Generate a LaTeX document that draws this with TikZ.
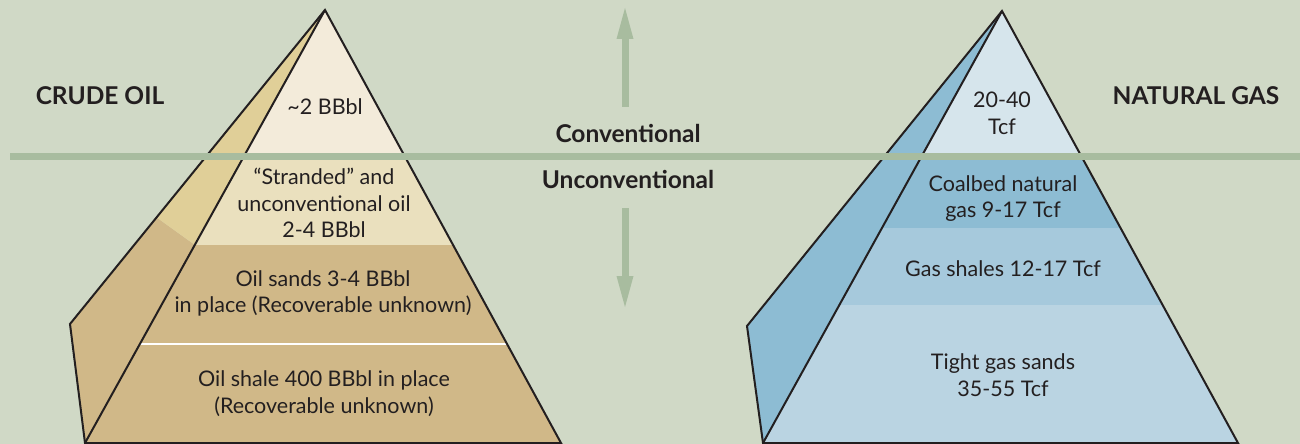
\documentclass[tikz,border=0pt]{standalone}
\usepackage{fontspec}
\setmainfont{Lato}
\definecolor{bg}{HTML}{D0D9C6}
\definecolor{grn}{HTML}{A8BC9F}
\definecolor{oilA}{HTML}{F3EBDA}
\definecolor{oilB}{HTML}{EAE0BE}
\definecolor{oilC}{HTML}{D0B888}
\definecolor{oilS}{HTML}{E0CF98}
\definecolor{gasA}{HTML}{D6E5EC}
\definecolor{gasB}{HTML}{8DBCD3}
\definecolor{gasC}{HTML}{A6C9DC}
\definecolor{gasD}{HTML}{BAD4E2}
\definecolor{ink}{HTML}{231F20}
\tikzset{
  outline/.style={draw=ink, line width=2pt, line join=miter},
  lbl/.style={font=\fontsize{21.5}{26.5}\selectfont, text=ink, align=center, inner sep=0pt},
  title/.style={font=\fontsize{24.5}{28}\selectfont\bfseries, text=ink, inner sep=0pt},
  arrowfill/.style={fill=grn, draw=none}
}
\begin{document}
\begin{tikzpicture}[x=1pt,y=-1pt]
\useasboundingbox (0,0) rectangle (1300,444);
\fill[bg] (0,0) rectangle (1300,444);

% ---------- CRUDE OIL pyramid ----------
\coordinate (oA) at (325,10);
\coordinate (oBL) at (85,443);
\coordinate (oBR) at (561,443);
\coordinate (oS) at (70,324);
\coordinate (oE1) at (156,217);
\coordinate (oE2) at (195,245);
% side face
\fill[oilC] (oE1) -- (oS) -- (oBL) -- (oE2) -- cycle;
\fill[oilS] (oA) -- (oE1) -- (oE2) -- cycle;
% front face bands
\begin{scope}
  \clip (oA) -- (oBL) -- (oBR) -- cycle;
  \fill[oilA] (0,0) rectangle (700,156);
  \fill[oilB] (0,156) rectangle (700,245);
  \fill[oilC] (0,245) rectangle (700,444);
  \draw[white, line width=1.3pt] (0,344) -- (700,344);
\end{scope}
\draw[outline] (oA) -- (oS) -- (oBL) -- (oBR) -- cycle;
\draw[outline] (oA) -- (oBL);

% ---------- NATURAL GAS pyramid ----------
\coordinate (gA) at (1002,11);
\coordinate (gBL) at (763,443);
\coordinate (gBR) at (1238,443);
\coordinate (gS) at (747,326);
\fill[gasB] (gA) -- (gS) -- (gBL) -- cycle;
\begin{scope}
  \clip (gA) -- (gBL) -- (gBR) -- cycle;
  \fill[gasA] (700,0) rectangle (1300,156);
  \fill[gasB] (700,156) rectangle (1300,228);
  \fill[gasC] (700,228) rectangle (1300,305);
  \fill[gasD] (700,305) rectangle (1300,444);
\end{scope}
\draw[outline] (gA) -- (gS) -- (gBL) -- (gBR) -- cycle;
\draw[outline] (gA) -- (gBL);

% ---------- divider line ----------
\fill[grn] (10,153) rectangle (1300,160);

% ---------- arrows ----------
\fill[arrowfill] (621.5,39) rectangle (628.5,107);
\fill[arrowfill] (625,8) -- (616.5,39) -- (633.5,39) -- cycle;
\fill[arrowfill] (621.5,208) rectangle (628.5,276);
\fill[arrowfill] (616.5,276) -- (633.5,276) -- (625,307) -- cycle;

% ---------- labels ----------
\node[title] (crude) at (100,96) {CRUDE OIL};
\node[title] (natgas) at (1196,96) {NATURAL GAS};
\node[title] (conv) at (628,133) {Conventional};
\node[title] (unconv) at (628,179) {Unconventional};

\node[lbl] (o1) at (325,107) {{\char`\~}2 BBbl};
\node[lbl] (o2) at (324,203) {“Stranded” and\\unconventional oil\\2-4 BBbl};
\node[lbl] (o3) at (323,293.5) {Oil sands 3-4 BBbl\\in place (Recoverable unknown)};
\node[lbl] (o4) at (324,393.5) {Oil shale 400 BBbl in place\\(Recoverable unknown)};

\node[lbl] (g1) at (1002,113.5) {20-40\\Tcf};
\node[lbl] (g2) at (1003,198.5) {Coalbed natural\\gas 9-17 Tcf};
\node[lbl] (g3) at (1003,269) {Gas shales 12-17 Tcf};
\node[lbl] (g4) at (1003,375) {Tight gas sands\\35-55 Tcf};
\end{tikzpicture}
\end{document}
